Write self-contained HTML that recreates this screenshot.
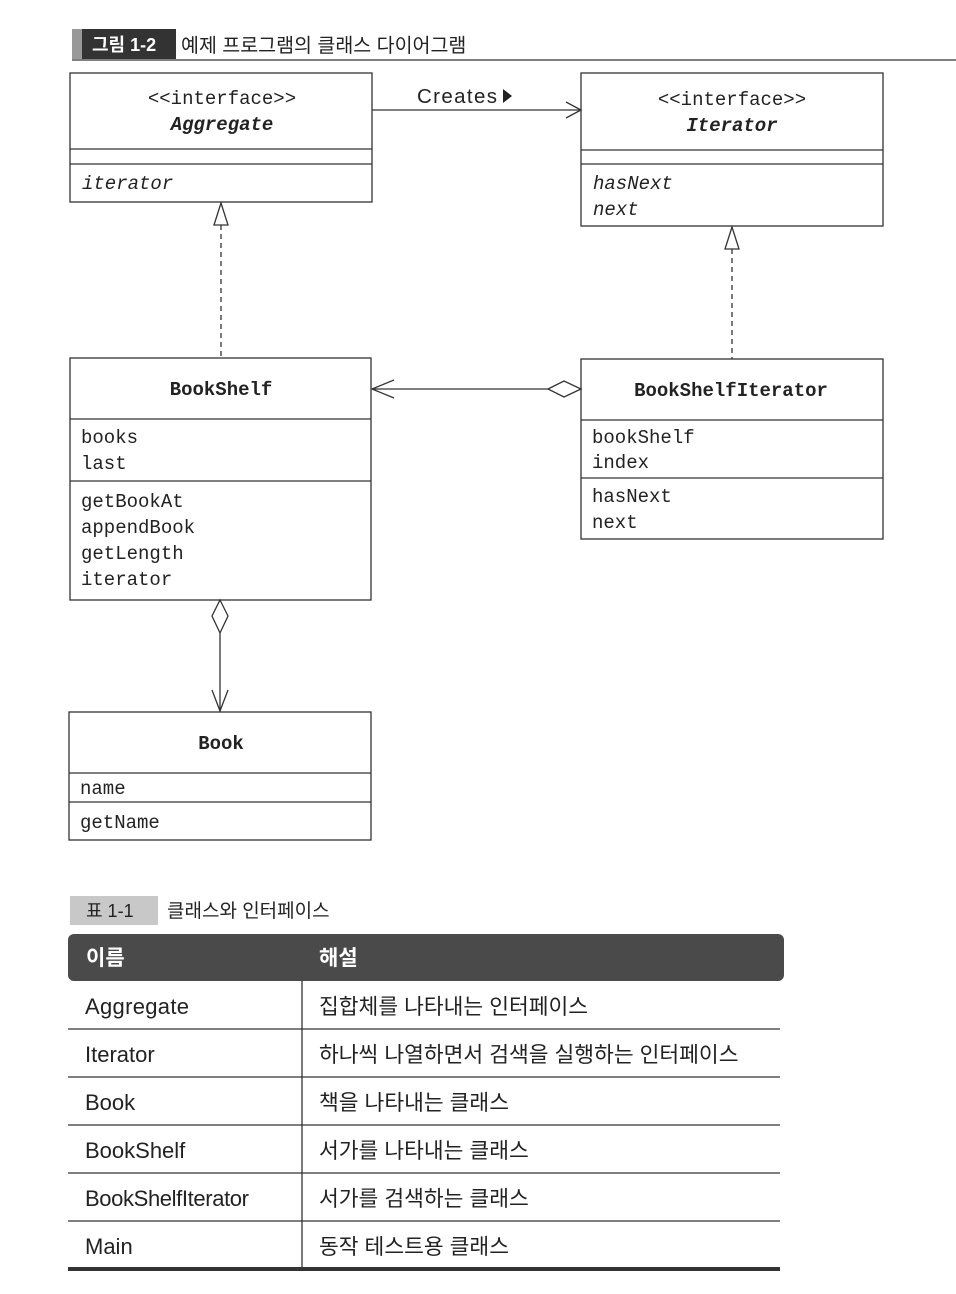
<!DOCTYPE html>
<html><head><meta charset="utf-8"><style>
html,body{margin:0;padding:0;background:#fff;}
body{width:956px;height:1294px;overflow:hidden;position:relative;}
svg{position:absolute;left:0;top:0;}
.m{font-family:"Liberation Mono",monospace;font-size:19px;fill:#222;}
.k{font-family:"Liberation Sans","Noto Sans CJK KR",sans-serif;fill:#222;}
</style></head><body>
<svg width="956" height="1294" viewBox="0 0 956 1294">
<rect x="72" y="29" width="104" height="30" fill="#333"/>
<rect x="72" y="29" width="10" height="30" fill="#999"/>
<text x="92" y="51" class="k" font-size="18" font-weight="bold" style="fill:#fff">그림 1-2</text>
<text x="181" y="52" class="k" font-size="19.5">예제 프로그램의 클래스 다이어그램</text>
<line x1="72" y1="60" x2="956" y2="60" stroke="#555" stroke-width="1.5"/>
<g fill="none" stroke="#333" stroke-width="1.3">
<rect x="70" y="73" width="302" height="129"/><line x1="70" y1="149" x2="372" y2="149"/><line x1="70" y1="164" x2="372" y2="164"/>
<rect x="581" y="73" width="302" height="153"/><line x1="581" y1="150" x2="883" y2="150"/><line x1="581" y1="164" x2="883" y2="164"/>
<line x1="372" y1="110" x2="580" y2="110"/><polyline points="566,102 581,110 566,118"/>
<polygon points="221,203 214,225 228,225" fill="#fff"/><line x1="221" y1="225" x2="221" y2="358" stroke-dasharray="5,4"/>
<polygon points="732,227 725,249 739,249" fill="#fff"/><line x1="732" y1="249" x2="732" y2="359" stroke-dasharray="5,4"/>
<rect x="70" y="358" width="301" height="242"/><line x1="70" y1="419" x2="371" y2="419"/><line x1="70" y1="481" x2="371" y2="481"/>
<rect x="581" y="359" width="302" height="180"/><line x1="581" y1="420" x2="883" y2="420"/><line x1="581" y1="478" x2="883" y2="478"/>
<line x1="372" y1="389" x2="548" y2="389"/><polygon points="548,389 564,381 581,389 564,397" fill="#fff"/><polyline points="394,380 372,389 394,398"/>
<polygon points="220,600 228,616 220,633 212,616" fill="#fff"/><line x1="220" y1="633" x2="220" y2="711"/><polyline points="212,690 220,711 228,690"/>
<rect x="69" y="712" width="302" height="128"/><line x1="69" y1="773" x2="371" y2="773"/><line x1="69" y1="802" x2="371" y2="802"/>
</g>
<text x="417" y="103" class="k" font-size="20.5" textLength="80">Creates</text>
<polygon points="503,89 503,103 512,96" fill="#222"/>
<text x="222" y="104" class="m" text-anchor="middle">&lt;&lt;interface&gt;&gt;</text>
<text x="222" y="130" class="m" text-anchor="middle" font-weight="bold" font-style="italic">Aggregate</text>
<text x="82" y="189" class="m" font-style="italic">iterator</text>
<text x="732" y="105" class="m" text-anchor="middle">&lt;&lt;interface&gt;&gt;</text>
<text x="732" y="131" class="m" text-anchor="middle" font-weight="bold" font-style="italic">Iterator</text>
<text x="593" y="189" class="m" font-style="italic">hasNext</text>
<text x="593" y="215" class="m" font-style="italic">next</text>
<text x="221" y="395" class="m" text-anchor="middle" font-weight="bold">BookShelf</text>
<text x="81" y="443" class="m">books</text><text x="81" y="469" class="m">last</text>
<text x="81" y="507" class="m">getBookAt</text><text x="81" y="533" class="m">appendBook</text>
<text x="81" y="559" class="m">getLength</text><text x="81" y="585" class="m">iterator</text>
<text x="731" y="396" class="m" text-anchor="middle" font-weight="bold">BookShelfIterator</text>
<text x="592" y="443" class="m">bookShelf</text><text x="592" y="468" class="m">index</text>
<text x="592" y="502" class="m">hasNext</text><text x="592" y="528" class="m">next</text>
<text x="221" y="749" class="m" text-anchor="middle" font-weight="bold">Book</text>
<text x="80" y="794" class="m">name</text><text x="80" y="828" class="m">getName</text>
<rect x="70" y="896" width="88" height="29" fill="#c8c8c8"/>
<text x="86" y="917" class="k" font-size="18">표 1-1</text>
<text x="167" y="917" class="k" font-size="19">클래스와 인터페이스</text>
<rect x="68" y="934" width="716" height="47" rx="6" fill="#4a4a4a"/>
<text x="86" y="965" class="k" font-size="21" font-weight="bold" style="fill:#fff">이름</text>
<text x="319" y="965" class="k" font-size="21" font-weight="bold" style="fill:#fff">해설</text>
<g stroke="#333" stroke-width="1.3">
<line x1="302" y1="981" x2="302" y2="1269"/>
<line x1="68" y1="1029" x2="780" y2="1029"/><line x1="68" y1="1077" x2="780" y2="1077"/>
<line x1="68" y1="1125" x2="780" y2="1125"/><line x1="68" y1="1173" x2="780" y2="1173"/>
<line x1="68" y1="1221" x2="780" y2="1221"/>
<line x1="68" y1="1269" x2="780" y2="1269" stroke-width="4"/>
</g>
<g>
<text x="85" y="1014" class="k" font-size="22" textLength="104">Aggregate</text><text x="319" y="1014" class="k" font-size="21.5">집합체를 나타내는 인터페이스</text>
<text x="85" y="1062" class="k" font-size="22">Iterator</text><text x="319" y="1062" class="k" font-size="21.5">하나씩 나열하면서 검색을 실행하는 인터페이스</text>
<text x="85" y="1110" class="k" font-size="22">Book</text><text x="319" y="1110" class="k" font-size="21.5">책을 나타내는 클래스</text>
<text x="85" y="1158" class="k" font-size="22">BookShelf</text><text x="319" y="1158" class="k" font-size="21.5">서가를 나타내는 클래스</text>
<text x="85" y="1206" class="k" font-size="22" textLength="164">BookShelfIterator</text><text x="319" y="1206" class="k" font-size="21.5">서가를 검색하는 클래스</text>
<text x="85" y="1254" class="k" font-size="22">Main</text><text x="319" y="1254" class="k" font-size="21.5">동작 테스트용 클래스</text>
</g>
</svg>
</body></html>
